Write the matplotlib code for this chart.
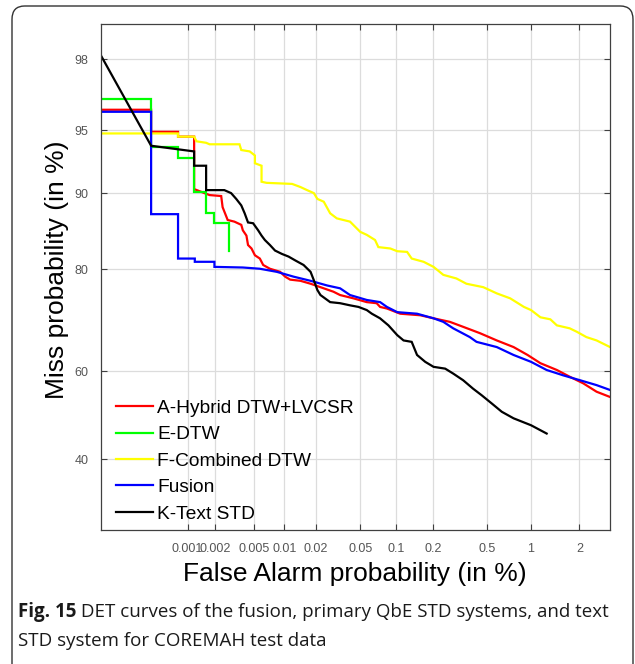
from statistics import NormalDist

import matplotlib

matplotlib.use("Agg")
import matplotlib.pyplot as plt  # noqa: E402
import numpy as np  # noqa: E402
from matplotlib.patches import FancyBboxPatch  # noqa: E402

# ---- data (false alarm %, miss %) ----
hybrid_fa = [0.0001, 0.00039, 0.00039, 0.000785, 0.000785, 0.00118, 0.00118, 0.00173, 0.0023, 0.00238,
             0.00269, 0.00316, 0.00372, 0.00386, 0.0042, 0.00436, 0.00473, 0.00512, 0.00574, 0.0062,
             0.00723, 0.00912, 0.0102, 0.0114, 0.0143, 0.0178, 0.022, 0.0289, 0.0332, 0.0436,
             0.057, 0.0693, 0.0741, 0.0845, 0.109, 0.158, 0.201, 0.268, 0.337, 0.447,
             0.587, 0.765, 0.949, 1.15, 1.46, 1.75, 2.11, 2.52, 3.0]
hybrid_miss = [96.1, 96.1, 94.9, 94.9, 94.6, 94.6, 90.4, 89.8, 89.7, 88.5,
               87.0, 86.8, 86.4, 85.7, 85.0, 83.7, 83.2, 82.2, 81.7, 80.7,
               80.1, 79.6, 78.8, 78.3, 78.1, 77.6, 77.0, 76.2, 75.6, 75.0,
               74.3, 74.1, 73.4, 73.1, 72.1, 71.8, 71.2, 70.5, 69.5, 68.2,
               66.7, 65.3, 63.6, 61.8, 60.3, 58.8, 57.3, 55.4, 54.2]

edtw_fa = [0.0001, 0.00039, 0.00039, 0.000785, 0.000785, 0.00118, 0.00118, 0.00159, 0.00159, 0.00195,
           0.00195, 0.0028, 0.0028]
edtw_miss = [96.6, 96.6, 93.9, 93.9, 93.1, 93.1, 90.1, 90.1, 87.8, 87.8,
             86.6, 86.6, 82.9]

combined_fa = [0.0001, 0.000785, 0.000785, 0.00118, 0.00125, 0.00159, 0.00173, 0.00357, 0.00372, 0.00454,
               0.00512, 0.00512, 0.00597, 0.00597, 0.0067, 0.0119, 0.0143, 0.0165, 0.0191, 0.0206,
               0.0236, 0.027, 0.031, 0.0407, 0.05, 0.057, 0.0671, 0.0716, 0.0902, 0.103,
               0.124, 0.135, 0.168, 0.201, 0.239, 0.30, 0.356, 0.472, 0.587, 0.726,
               0.898, 1.0, 1.15, 1.33, 1.46, 1.75, 1.93, 2.2, 2.52, 3.0]
combined_miss = [94.8, 94.8, 94.6, 94.6, 94.3, 94.2, 94.1, 94.1, 93.7, 93.6,
                 93.3, 92.7, 92.5, 91.1, 91.0, 90.9, 90.6, 90.3, 90.0, 89.4,
                 89.1, 87.8, 87.2, 86.8, 85.5, 85.1, 84.4, 83.4, 83.2, 82.8,
                 82.7, 81.7, 81.2, 80.4, 79.1, 78.5, 77.6, 77.0, 75.9, 75.0,
                 73.4, 72.8, 71.4, 71.0, 69.8, 69.2, 68.5, 67.4, 66.7, 65.3]

fusion_fa = [0.0001, 0.00039, 0.00039, 0.000785, 0.000785, 0.0012, 0.0012, 0.00195, 0.00195, 0.00386,
             0.00574, 0.00845, 0.0123, 0.0178, 0.0253, 0.0332, 0.0407, 0.057, 0.0741, 0.0845,
             0.103, 0.149, 0.201, 0.239, 0.284, 0.377, 0.422, 0.587, 0.765, 1.0,
             1.26, 1.6, 2.02, 2.52, 3.0]
fusion_miss = [96.0, 96.0, 87.7, 87.7, 81.7, 81.7, 81.2, 81.2, 80.4, 80.3,
               80.1, 79.6, 78.8, 78.1, 77.3, 76.8, 75.6, 74.7, 74.3, 73.4,
               72.4, 72.1, 71.2, 70.5, 69.2, 67.4, 66.4, 65.3, 63.6, 62.1,
               60.3, 59.1, 58.0, 56.9, 55.8]

text_fa = [0.0001, 0.00039, 0.00118, 0.00118, 0.00159, 0.00159, 0.00248, 0.00292, 0.0033, 0.00372,
           0.00403, 0.00436, 0.00491, 0.00552, 0.00597, 0.00644, 0.00723, 0.00812, 0.00948, 0.011,
           0.0128, 0.0153, 0.0178, 0.0191, 0.0206, 0.022, 0.027, 0.0332, 0.0407, 0.0483,
           0.057, 0.063, 0.074, 0.087, 0.103, 0.116, 0.135, 0.149, 0.173, 0.201,
           0.247, 0.284, 0.337, 0.398, 0.459, 0.542, 0.636, 0.765, 1.0, 1.26]
text_miss = [98.1, 94.0, 93.6, 92.5, 92.5, 90.3, 90.3, 90.0, 89.4, 88.7,
             87.8, 86.7, 86.6, 85.7, 85.0, 84.4, 83.7, 82.9, 82.4, 82.0,
             81.4, 80.7, 79.6, 78.2, 76.5, 75.6, 74.3, 74.1, 73.7, 73.4,
             72.8, 72.1, 71.2, 69.8, 67.8, 66.7, 66.4, 63.6, 62.1, 61.0,
             60.6, 59.5, 58.0, 56.1, 54.6, 52.7, 50.8, 49.3, 47.7, 45.8]

series = [
    ("A-Hybrid DTW+LVCSR", hybrid_fa, hybrid_miss, "#ff0000"),
    ("E-DTW", edtw_fa, edtw_miss, "#00ff00"),
    ("F-Combined DTW", combined_fa, combined_miss, "#ffff00"),
    ("Fusion", fusion_fa, fusion_miss, "#0000ff"),
    ("K-Text STD", text_fa, text_miss, "#000000"),
]

x_ticks = [0.001, 0.002, 0.005, 0.01, 0.02, 0.05, 0.1, 0.2, 0.5, 1, 2]
x_ticklabels = ["0.001", "0.002", "0.005", "0.01", "0.02", "0.05", "0.1", "0.2", "0.5", "1", "2"]
y_ticks = [40, 60, 80, 90, 95, 98]
y_ticklabels = ["40", "60", "80", "90", "95", "98"]

_nd = NormalDist()
_ppf = np.vectorize(_nd.inv_cdf, otypes=[float])
_cdf = np.vectorize(_nd.cdf, otypes=[float])


def probit(pct):
    p = np.clip(np.asarray(pct, dtype=float) / 100.0, 1e-12, 1 - 1e-12)
    return _ppf(p)


def inv_probit(z):
    return _cdf(np.asarray(z, dtype=float)) * 100.0


plt.rcParams["font.family"] = ["Liberation Sans", "DejaVu Sans"]

fig = plt.figure(figsize=(6.35, 6.64), dpi=100)
ax = fig.add_axes([101 / 635, 1 - 530 / 664, 509 / 635, 506 / 664])
ax.set_xscale("function", functions=(probit, inv_probit))
ax.set_yscale("function", functions=(probit, inv_probit))

for name, fa, miss, col in series:
    ax.plot(fa, miss, color=col, linewidth=1.6, label=name, solid_joinstyle="miter")

ax.set_xlim(0.0001, 3.0)
ax.set_ylim(25.4, 98.8)
ax.set_xticks(x_ticks)
ax.set_xticklabels(x_ticklabels)
ax.set_yticks(y_ticks)
ax.set_yticklabels(y_ticklabels)
ax.minorticks_off()
ax.tick_params(direction="in", length=4, width=0.8, color="#404040", labelcolor="#555555",
               labelsize=9, top=True, right=True, pad=9)
ax.grid(True, color="#dcdcdc", linewidth=0.9)
ax.set_axisbelow(True)
for sp in ax.spines.values():
    sp.set_color("#404040")
    sp.set_linewidth(0.9)

fig.text(57 / 635, 1 - 270 / 664, "Miss probability (in %)", rotation=90, ha="center", va="center", fontsize=19)
fig.text(355 / 635, 1 - 574 / 664, "False Alarm probability (in %)", ha="center", va="center", fontsize=19)

ax.legend(loc="upper left", bbox_to_anchor=(0.029, 0.258), frameon=False, fontsize=13.8,
          borderpad=0, borderaxespad=0, handlelength=1.95, handletextpad=0.2, labelspacing=0.47)

# caption box and caption
box = FancyBboxPatch((12 / 635, -0.2), 621 / 635, 1.2 - 6 / 664, boxstyle="round,pad=0,rounding_size=0.02",
                     transform=fig.transFigure, fill=False, edgecolor="#333333", linewidth=1.0, clip_on=False)
fig.patches.append(box)

cap_font = ["Open Sans", "DejaVu Sans"]
t1 = fig.text(18 / 635, 1 - 612 / 664, "Fig. 15", fontsize=13.5, fontweight="bold", family=cap_font,
              va="center", ha="left", color="#1a1a1a")
fig.canvas.draw()
bb = t1.get_window_extent()
fig.text(bb.x1 / fig.bbox.width, 1 - 612 / 664, " DET curves of the fusion, primary QbE STD systems, and text",
         fontsize=13.5, family=cap_font, va="center", ha="left", color="#1a1a1a")
fig.text(18 / 635, 1 - 641 / 664, "STD system for COREMAH test data", fontsize=13.5, family=cap_font,
         va="center", ha="left", color="#1a1a1a")

fig.savefig("out.png", dpi=100)
